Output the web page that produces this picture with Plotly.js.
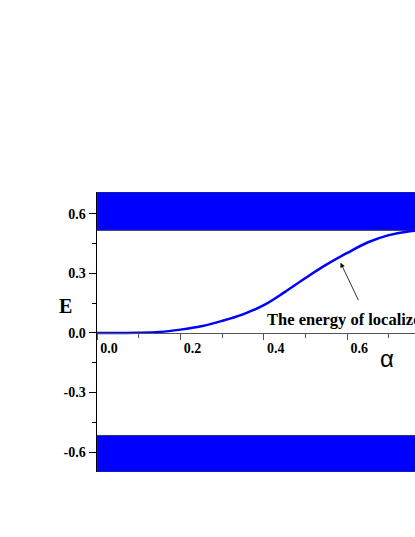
<!DOCTYPE html>
<html>
<head>
<meta charset="utf-8">
<script src="https://cdn.plot.ly/plotly-3.0.1.min.js"></script>
<style>
  html, body { margin: 0; padding: 0; overflow: hidden; background: #fff; }
  #graph { width: 520px; height: 537px; }
</style>
</head>
<body>
<div id="graph"></div>
<script>
// curve
let alpha = [0, 0.05, 0.1, 0.15, 0.2, 0.25, 0.3, 0.35, 0.4, 0.45, 0.5, 0.55, 0.6, 0.65, 0.7, 0.75, 0.8];
let energy = [0, 0.0, 0.001, 0.005, 0.017, 0.034, 0.061, 0.094, 0.140, 0.206, 0.277, 0.344, 0.403, 0.457, 0.493, 0.512, 0.518];

// the two blue bands (band edges)
let bandX = [0, 1, 1, 0, 0];
let upperBandY = [0.517, 0.517, 0.71, 0.71, 0.517];
let lowerBandY = [-0.70, -0.70, -0.516, -0.516, -0.70];

let xTickVals = [0, 0.2, 0.4, 0.6, 0.8, 1.0];
let xTickText = ['0.0', '0.2', '0.4', '0.6', '0.8', '1.0'];
let yTickVals = [-0.6, -0.3, 0, 0.3, 0.6];
let yTickText = ['-0.6', '-0.3', '0.0', '0.3', '0.6'];

let serif = 'Liberation Serif, Times New Roman, serif';

let traces = [
    {
        x: bandX, y: upperBandY,
        mode: 'lines', fill: 'toself', fillcolor: '#0000ff',
        line: { color: '#333366', width: 1 },
        hoverinfo: 'skip', showlegend: false
    },
    {
        x: bandX, y: lowerBandY,
        mode: 'lines', fill: 'toself', fillcolor: '#0000ff',
        line: { color: '#333366', width: 1 },
        hoverinfo: 'skip', showlegend: false
    },
    {
        x: alpha, y: energy,
        mode: 'lines',
        line: { color: '#0000ff', width: 2.5, shape: 'spline', smoothing: 1 },
        showlegend: false
    }
];

let layout = {
    width: 520,
    height: 537,
    margin: { l: 97, r: 6, t: 192, b: 65 },
    paper_bgcolor: '#fff',
    plot_bgcolor: '#fff',
    showlegend: false,
    xaxis: {
        range: [0, 1],
        anchor: 'free',
        position: 0.70 / 1.41,
        showline: true, linecolor: '#555', linewidth: 1.5,
        showgrid: false, zeroline: false,
        tickmode: 'array', tickvals: xTickVals, ticktext: xTickText,
        ticks: 'outside', ticklen: 6, tickwidth: 1, tickcolor: '#555',
        minor: { tickmode: 'linear', tick0: 0, dtick: 0.1, ticks: 'outside', ticklen: 4, tickcolor: '#555' },
        ticklabelshift: 12,
        ticklabelstandoff: -4,
        tickfont: { family: serif, size: 14, color: '#000', weight: 'bold' }
    },
    yaxis: {
        range: [-0.70, 0.71],
        showline: true, linecolor: '#000', linewidth: 1.5,
        showgrid: false, zeroline: false,
        tickmode: 'array', tickvals: yTickVals, ticktext: yTickText,
        ticks: 'outside', ticklen: 7, tickwidth: 1, tickcolor: '#000',
        minor: { tickmode: 'linear', tick0: 0, dtick: 0.15, ticks: 'outside', ticklen: 4, tickcolor: '#000' },
        tickfont: { family: serif, size: 14, color: '#000', weight: 'bold' }
    },
    annotations: [
        {
            text: 'E', xref: 'paper', yref: 'y',
            x: -0.096, y: 0.136, showarrow: false,
            font: { family: serif, size: 20, color: '#000', weight: 'bold' }
        },
        {
            text: 'α', xref: 'x', yref: 'y',
            x: 0.695, y: -0.128, showarrow: false,
            font: { family: 'Liberation Sans, Arial, sans-serif', size: 24, color: '#000' }
        },
        {
            text: 'The energy of localized state', xref: 'x', yref: 'y',
            x: 0.403, y: 0.070, xanchor: 'left', yanchor: 'middle', showarrow: false,
            font: { family: serif, size: 16.5, color: '#000', weight: 'bold' }
        },
        {
            text: '', xref: 'x', yref: 'y',
            x: 0.584, y: 0.354, ax: 18.6, ay: 39,
            showarrow: true, arrowhead: 2, arrowsize: 1.2, arrowwidth: 0.8, arrowcolor: '#000',
            standoff: 0, startstandoff: 0
        }
    ]
};

Plotly.newPlot('graph', traces, layout, { displayModeBar: false, staticPlot: true });
</script>
</body>
</html>
